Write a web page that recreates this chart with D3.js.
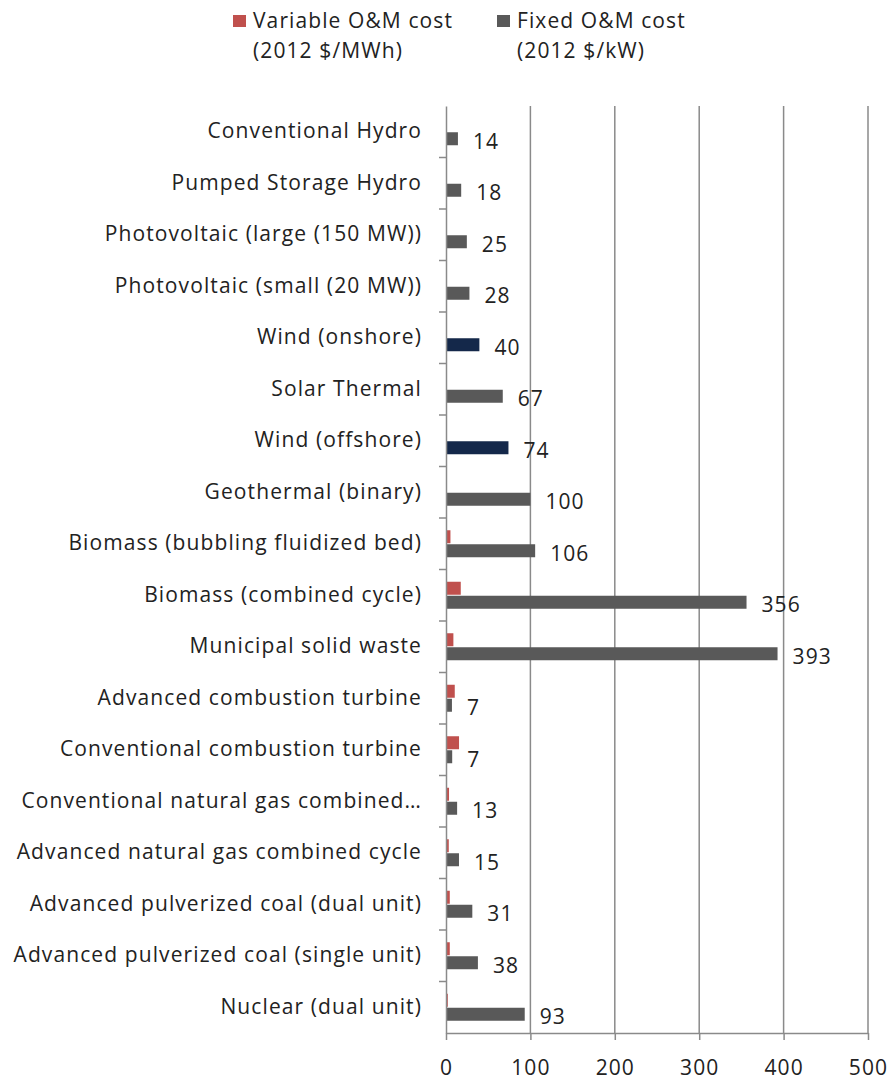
<!DOCTYPE html>
<html><head><meta charset="utf-8">
<script src="https://cdn.jsdelivr.net/npm/d3@7"></script>
<style>body{margin:0;background:#fff}svg{display:block}text{font-family:"Open Sans",sans-serif;fill:#222;letter-spacing:1.1px}</style>
</head><body><svg id="c" width="890" height="1080"></svg>
<script>
const categories = ["Conventional Hydro","Pumped Storage Hydro","Photovoltaic (large (150 MW))","Photovoltaic (small (20 MW))","Wind (onshore)","Solar Thermal","Wind (offshore)","Geothermal (binary)","Biomass (bubbling fluidized bed)","Biomass (combined cycle)","Municipal solid waste","Advanced combustion turbine","Conventional combustion turbine","Conventional natural gas combined…","Advanced natural gas combined cycle","Advanced pulverized coal (dual unit)","Advanced pulverized coal (single unit)","Nuclear (dual unit)"];
const variableOM = [0,0,0,0,0,0,0,0,5.26,17.49,8.75,10.37,15.45,3.6,3.27,4.47,4.47,2.14];
const fixedOM = [14.13,18,24.69,27.75,39.55,67.26,74,100,105.63,356.07,392.82,7.04,7.34,13.17,15.37,31.18,37.8,93.28];
const fixedLabels = ["14","18","25","28","40","67","74","100","106","356","393","7","7","13","15","31","38","93"];
const highlighted = ["Wind (onshore)","Wind (offshore)"];
const xTicks = [0,100,200,300,400,500];

const FS = "21px";
const svg = d3.select("#c");
const x = d3.scaleLinear().domain([0,500]).range([446,868]);
const y = d3.scaleBand().domain(categories).range([106,1033]).paddingInner(0);
const axisCol = "#8a8a8a";

// gridlines
svg.append("g").selectAll("line").data(xTicks.slice(1)).join("line")
  .attr("x1",d=>x(d)).attr("x2",d=>x(d)).attr("y1",106).attr("y2",1033)
  .attr("stroke",axisCol).attr("stroke-width",1.5);

// bars
const c = d => y(d)+y.bandwidth()/2;
svg.append("g").selectAll("rect").data(categories).join("rect")
  .attr("x",x(0)).attr("y",d=>c(d)-13.5).attr("height",13)
  .attr("width",(d,i)=>x(variableOM[i])-x(0)).attr("fill","#c0504d");
svg.append("g").selectAll("rect").data(categories).join("rect")
  .attr("x",x(0)).attr("y",d=>c(d)+0.5).attr("height",13)
  .attr("width",(d,i)=>x(fixedOM[i])-x(0))
  .attr("fill",d=>highlighted.includes(d)?"#14284a":"#595959");

// value labels
svg.append("g").selectAll("text").data(categories).join("text")
  .attr("x",(d,i)=>x(fixedOM[i])+15).attr("y",d=>c(d)+9)
  .attr("dominant-baseline","central").style("font-size",FS)
  .text((d,i)=>fixedLabels[i]);

// y axis
const ya = svg.append("g").attr("transform",`translate(${x(0)},0)`)
  .call(d3.axisLeft(y).tickSize(0).tickPadding(24).tickSizeOuter(0));
ya.select(".domain").attr("stroke",axisCol).attr("stroke-width",1.5);
ya.selectAll("text").style("font-size",FS).style("font-family","'Open Sans',sans-serif").attr("fill","#222");
// category boundary ticks
svg.append("g").selectAll("line").data(categories.slice(1)).join("line")
  .attr("x1",x(0)-7).attr("x2",x(0)).attr("y1",d=>y(d)).attr("y2",d=>y(d))
  .attr("stroke",axisCol).attr("stroke-width",1.5);

// x axis
const xa = svg.append("g").attr("transform","translate(0,1033)")
  .call(d3.axisBottom(x).tickValues(xTicks).tickSize(7).tickSizeOuter(0).tickPadding(20));
xa.select(".domain").attr("stroke",axisCol).attr("stroke-width",1.5);
xa.selectAll("line").attr("stroke",axisCol).attr("stroke-width",1.5);
xa.selectAll("text").style("font-size",FS).style("font-family","'Open Sans',sans-serif").attr("fill","#222");

// legend
const legend = [
  {color:"#c0504d", l1:"Variable O&M cost", l2:"(2012 $/MWh)", x:233},
  {color:"#595959", l1:"Fixed O&M cost", l2:"(2012 $/kW)", x:497}
];
const lg = svg.append("g").selectAll("g").data(legend).join("g");
lg.append("rect").attr("x",d=>d.x).attr("y",15).attr("width",13).attr("height",12).attr("fill",d=>d.color);
lg.append("text").attr("x",d=>d.x+20).attr("y",28).style("font-size",FS).text(d=>d.l1);
lg.append("text").attr("x",d=>d.x+20).attr("y",58).style("font-size",FS).text(d=>d.l2);
</script></body></html>
